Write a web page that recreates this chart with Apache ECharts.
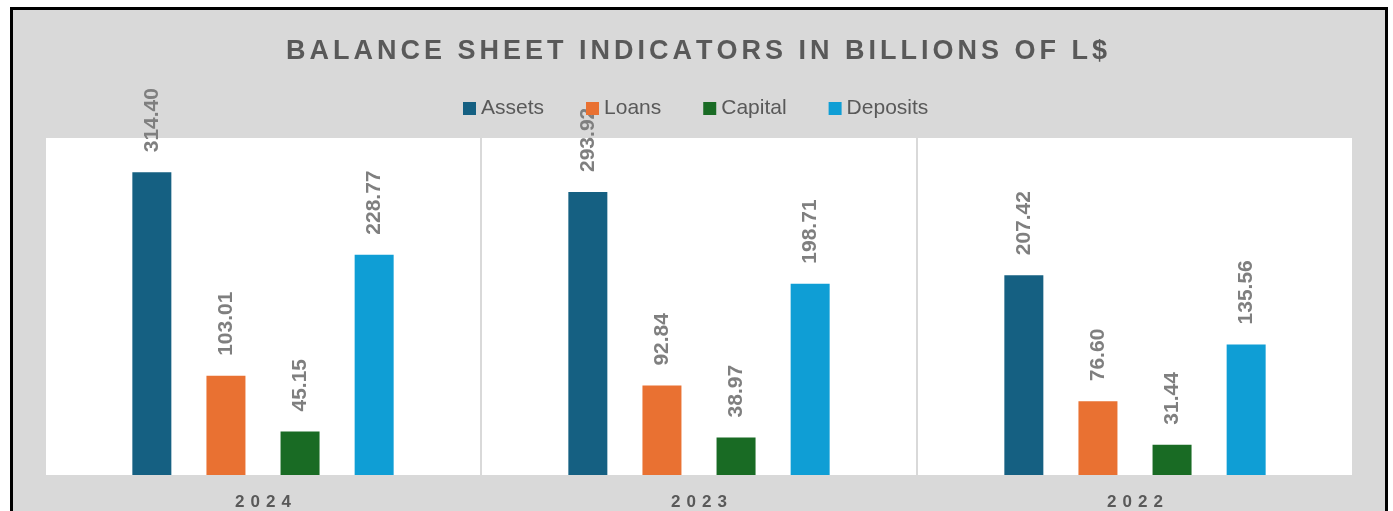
<!DOCTYPE html>
<html lang="en">
<head>
    <meta charset="UTF-8">
    <title>Balance Sheet Indicators</title>
    <script src="https://cdn.jsdelivr.net/npm/echarts@6.0.0/dist/echarts.min.js"></script>
    <style>
        body {
            margin: 0;
            background: #ffffff;
            font-family: 'Liberation Sans', Arial, sans-serif;
        }
        .frame {
            position: absolute;
            left: 10px;
            top: 7px;
            width: 1372px;
            height: 520px;
            background: #d9d9d9;
            border: 3px solid #000;
        }
        #chart {
            position: absolute;
            left: 0;
            top: 0;
            width: 1393px;
            height: 511px;
        }
    </style>
</head>
<body>
    <div class="frame"></div>
    <div id="chart"></div>

    <script>
        var titleText = 'BALANCE SHEET INDICATORS IN BILLIONS OF L$';
        var years = ['2024', '2023', '2022'];
        var seriesNames = ['Assets', 'Loans', 'Capital', 'Deposits'];
        var assets = [314.40, 293.92, 207.42];
        var loans = [103.01, 92.84, 76.60];
        var capital = [45.15, 38.97, 31.44];
        var deposits = [228.77, 198.71, 135.56];
        var colors = ['#156082', '#e97132', '#196b24', '#0f9ed5'];

        // letter-spaced text (title and year labels): draw char by char
        var spaced = {};
        spaced[titleText] = 4;
        years.forEach(function (y) { spaced[y] = 6; });
        var origFill = CanvasRenderingContext2D.prototype.fillText;
        CanvasRenderingContext2D.prototype.fillText = function (t, x, y) {
            var sp = spaced[t];
            if (!sp) {
                return origFill.apply(this, arguments);
            }
            var chars = t.split('');
            var widths = chars.map(c => this.measureText(c).width);
            var total = widths.reduce((a, b) => a + b, 0) + sp * (chars.length - 1);
            var align = this.textAlign;
            var startX = x;
            if (align === 'center') startX = x - total / 2;
            else if (align === 'right' || align === 'end') startX = x - total;
            this.textAlign = 'left';
            var cx = startX;
            for (var i = 0; i < chars.length; i++) {
                origFill.call(this, chars[i], cx, y);
                cx += widths[i] + sp;
            }
            this.textAlign = align;
        };

        var chart = echarts.init(document.getElementById('chart'));

        function makeSeries(name, data, color) {
            return {
                name: name,
                type: 'bar',
                data: data,
                barWidth: 39,
                barGap: '90%',
                itemStyle: { color: color },
                label: {
                    show: true,
                    position: 'top',
                    rotate: 90,
                    align: 'left',
                    verticalAlign: 'middle',
                    distance: 20,
                    color: '#7f7f7f',
                    fontWeight: 'bold',
                    fontSize: 21,
                    fontFamily: 'Liberation Sans',
                    formatter: function (p) { return p.value.toFixed(2); }
                }
            };
        }

        var option = {
            animation: false,
            title: {
                text: titleText,
                left: 'center',
                top: 33,
                textStyle: {
                    color: '#595959',
                    fontSize: 27,
                    fontWeight: 'bold',
                    fontFamily: 'Liberation Sans'
                }
            },
            legend: {
                data: seriesNames,
                left: 458,
                top: 93,
                itemWidth: 13,
                itemHeight: 13,
                itemGap: 42,
                icon: 'rect',
                textStyle: {
                    color: '#595959',
                    fontSize: 21,
                    fontFamily: 'Liberation Sans'
                }
            },
            grid: {
                left: 45,
                right: 40,
                top: 138,
                bottom: 35,
                show: true,
                backgroundColor: '#ffffff',
                borderWidth: 0
            },
            xAxis: {
                type: 'category',
                data: years,
                axisLine: { lineStyle: { color: '#d9d9d9', width: 1 } },
                axisTick: { show: false },
                splitLine: { show: true, lineStyle: { color: '#d9d9d9', width: 2 } },
                axisLabel: {
                    color: '#595959',
                    fontSize: 17,
                    fontWeight: 'bold',
                    fontFamily: 'Liberation Sans',
                    margin: 19
                }
            },
            yAxis: {
                type: 'value',
                min: 0,
                max: 350,
                show: false,
                splitLine: { show: false }
            },
            series: [
                makeSeries(seriesNames[0], assets, colors[0]),
                makeSeries(seriesNames[1], loans, colors[1]),
                makeSeries(seriesNames[2], capital, colors[2]),
                makeSeries(seriesNames[3], deposits, colors[3])
            ]
        };

        chart.setOption(option);

        window.onresize = function () {
            chart.resize();
        };
    </script>
</body>
</html>
